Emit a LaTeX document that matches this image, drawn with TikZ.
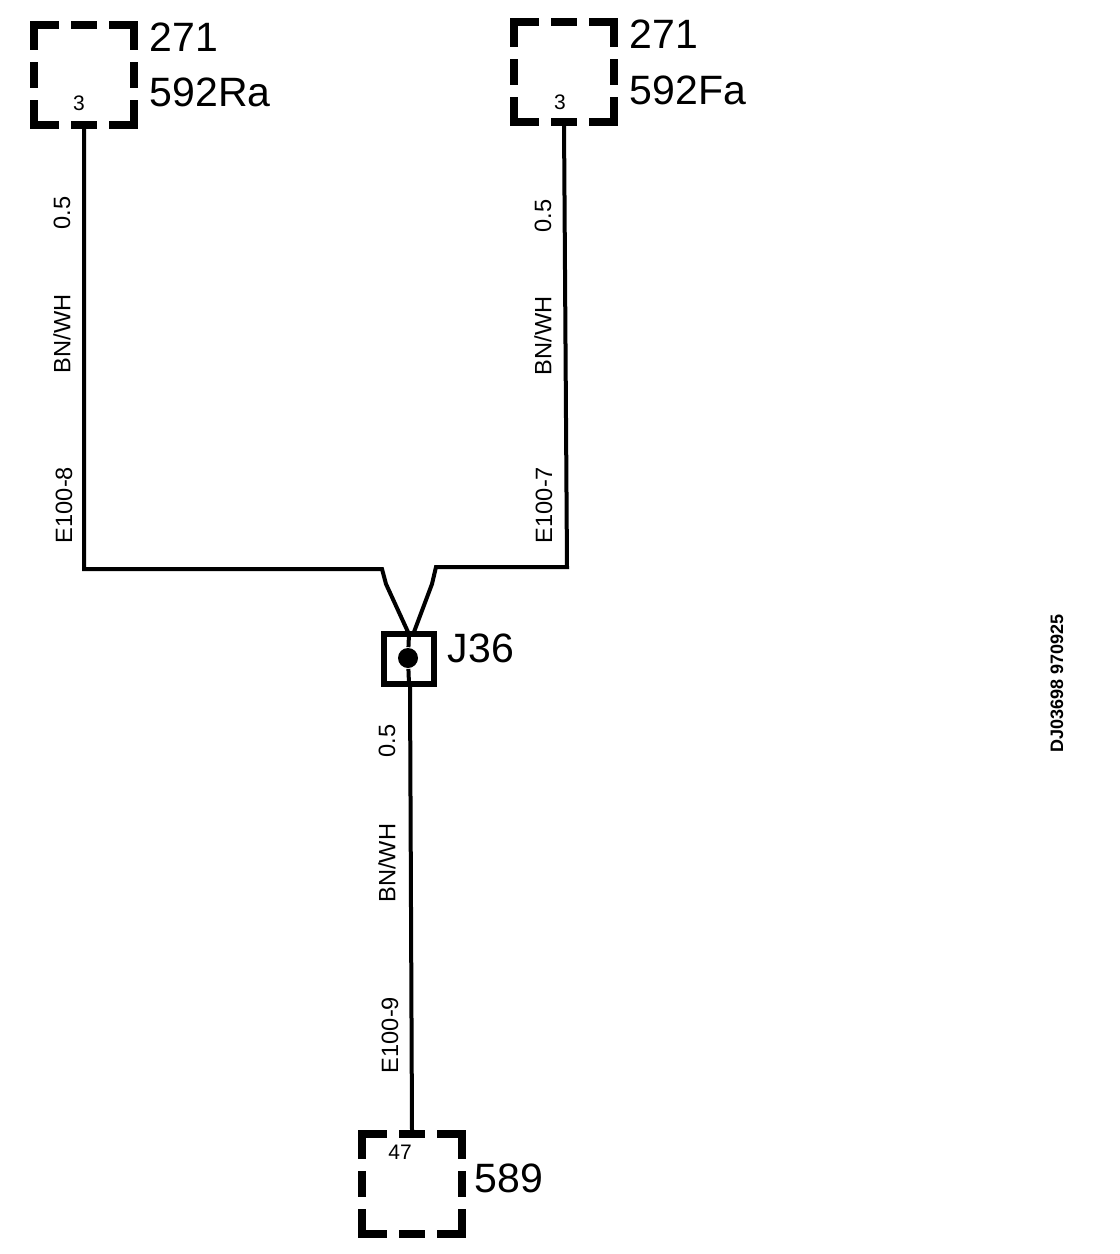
\documentclass[tikz,border=0pt]{standalone}
\usepackage{fontspec}
\setmainfont{Liberation Sans}
\begin{document}
\begin{tikzpicture}[x=0.5pt,y=-0.5pt,thick,
    conn node/.style={rectangle,draw,line width=4pt,line cap=rect,minimum size=50pt,inner sep=0pt,outer sep=0pt,
      dash pattern=on 21pt off 10pt on 9pt off 10pt,dash phase=10.5pt},
    splice node/.style={rectangle,draw,line width=2.6pt,minimum size=25pt,inner sep=0pt,outer sep=0pt},
    dot node/.style={circle,fill=black,minimum size=10pt,inner sep=0pt},
    name node/.style={anchor=west,inner sep=0pt,font=\fontsize{20.5}{21}\selectfont},
    pin node/.style={inner sep=0pt,font=\fontsize{10.5}{11}\selectfont},
    wire node/.style={rotate=90,inner sep=0pt,font=\fontsize{11.8}{12}\selectfont},
    wire/.style={line width=2pt,line join=miter}]
  \useasboundingbox (0,0) rectangle (1120,1254);
  \node[conn node] (rear) at (84,75) {};
  \node[conn node] (front) at (564,72) {};
  \node[conn node] (ground) at (412,1184) {};
  \node[splice node] (j36) at (409,659) {};
  \node[dot node] (dot) at (408,658) {};
  \coordinate (rear bend) at (84,569);
  \coordinate (rear kink) at (382,569);
  \coordinate (rear drop) at (386,584);
  \coordinate (front bend) at (567,567);
  \coordinate (front kink) at (436,567);
  \coordinate (front drop) at (432,584);
  \coordinate (left in) at (408,632);
  \coordinate (right in) at (414,632);
  \coordinate (tap) at (410,686);
  \coordinate (ground in) at (412,1130);
  \draw[wire] (rear.south) -- (rear bend) -- (rear kink) -- (rear drop) -- (left in);
  \draw[wire] (front.south) -- (front bend) -- (front kink) -- (front drop) -- (right in);
  \draw[wire] (j36.north) -- (dot) -- (j36.south);
  \draw[wire] (tap) -- (ground in);
  \node[name node] (n271a) at (149,37) {271};
  \node[name node] (n592r) at (149,92) {592Ra};
  \node[name node] (n271b) at (629,34) {271};
  \node[name node] (n592f) at (629,90) {592Fa};
  \node[name node] (nj36) at (447,648) {J36};
  \node[name node] (n589) at (474,1178) {589};
  \node[pin node] (pin1) at (79,103) {3};
  \node[pin node] (pin2) at (560,102) {3};
  \node[pin node] (pin3) at (400,1152) {47};
  \node[wire node] (size1) at (62,213) {0.5};
  \node[wire node] (col1) at (62,334) {BN/WH};
  \node[wire node] (ref1) at (64,505) {E100-8};
  \node[wire node] (size2) at (543,216) {0.5};
  \node[wire node] (col2) at (543,336) {BN/WH};
  \node[wire node] (ref2) at (544,505) {E100-7};
  \node[wire node] (size3) at (387,741) {0.5};
  \node[wire node] (col3) at (387,863) {BN/WH};
  \node[wire node] (ref3) at (390,1035) {E100-9};
  \node[wire node,font=\fontsize{9}{9}\bfseries\selectfont] (stamp) at (1057,683) {DJ03698 970925};
\end{tikzpicture}
\end{document}
